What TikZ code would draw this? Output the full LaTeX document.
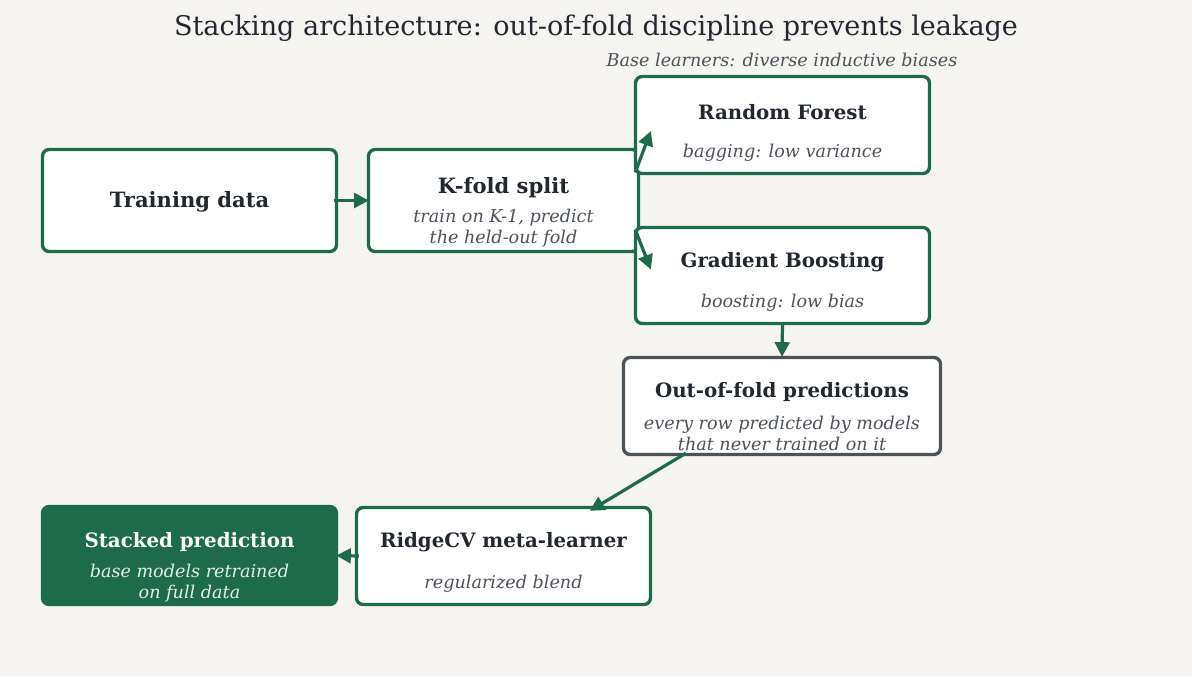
\documentclass[tikz,border=0pt]{standalone}
\usepackage{fontspec}
\setmainfont{DejaVu Serif}
\usetikzlibrary{arrows.meta,calc}

\definecolor{leafgreen}{RGB}{30,107,75}
\definecolor{inkdark}{RGB}{34,40,49}
\definecolor{inkgray}{RGB}{77,83,90}
\definecolor{slateedge}{RGB}{74,82,90}
\definecolor{paper}{RGB}{245,244,240}
\definecolor{palemint}{RGB}{226,239,232}

\begin{document}
\begin{tikzpicture}[x=0.75pt,y=0.75pt,yscale=-1,xscale=1,
  stagebox/.style={draw=leafgreen,line width=2.5pt,rounded corners=5pt,fill=white,inner sep=0pt},
  headtext/.style={font=\fontsize{15.8}{19}\selectfont\bfseries,text=inkdark},
  headsmall/.style={headtext,font=\fontsize{14.85}{18}\selectfont\bfseries},
  subtext/.style={font=\fontsize{13.2}{15.75}\selectfont\itshape,text=inkgray,align=center},
  flow/.style={draw=leafgreen,line width=2.4pt,-{Triangle[length=11pt,width=11pt]}}]
%set diagram to the reference size
\fill[paper] (0,0) rectangle (1192,676);
\useasboundingbox (0,0) rectangle (1192,676);

% Title
\node (title) at (596,28) {\fontsize{20.3}{24}\selectfont\color{inkdark}Stacking architecture: out-of-fold discipline prevents leakage};
\node[subtext] (baselbl) at (782,60) {Base learners: diverse inductive biases};

% Boxes
\node[stagebox,minimum width=220.5pt,minimum height=76.5pt] (train) at (189.5,200.5) {};
\node[headtext] (train-head) at ($(train)+(0,1.5)$) {Training data};

\node[stagebox,minimum width=202.5pt,minimum height=76.5pt] (kfold) at (503.5,200.5) {};
\node[headtext] (kfold-head) at ($(kfold)+(0,-13)$) {K-fold split};
\node[subtext] (kfold-sub) at ($(kfold)+(0,27.5)$) {train on K-1, predict\\the held-out fold};

\node[stagebox,minimum width=220.5pt,minimum height=72.75pt] (rf) at (782.5,125) {};
\node[headsmall] (rf-head) at ($(rf)+(0,-12.5)$) {Random Forest};
\node[subtext] (rf-sub) at ($(rf)+(0,27.5)$) {bagging: low variance};

\node[stagebox,minimum width=220.5pt,minimum height=72pt] (gb) at (782.5,275.5) {};
\node[headsmall] (gb-head) at ($(gb)+(0,-13)$) {Gradient Boosting};
\node[subtext] (gb-sub) at ($(gb)+(0,27)$) {boosting: low bias};

\node[stagebox,draw=slateedge,minimum width=237.75pt,minimum height=72.75pt] (oof) at (782,406) {};
\node[headsmall] (oof-head) at ($(oof)+(0,-13.5)$) {Out-of-fold predictions};
\node[subtext] (oof-sub) at ($(oof)+(0,27)$) {every row predicted by models\\that never trained on it};

\node[stagebox,minimum width=220.5pt,minimum height=72.75pt] (ridge) at (503.5,556) {};
\node[headsmall] (ridge-head) at ($(ridge)+(0,-13.5)$) {RidgeCV meta-learner};
\node[subtext] (ridge-sub) at ($(ridge)+(0,27.5)$) {regularized blend};

\node[stagebox,fill=leafgreen,minimum width=220.5pt,minimum height=73.5pt] (stacked) at (189.5,555.5) {};
\node[headsmall,text=white] (stacked-head) at ($(stacked)+(0,-13)$) {Stacked prediction};
\node[subtext,text=palemint] (stacked-sub) at ($(stacked)+(0,27.5)$) {base models retrained\\on full data};

% Arrows
\draw[flow] ($(train.east)+(-4,0)$) -- ($(kfold.west)+(2,0)$);
\draw[flow] ($(kfold.east)+(-5,-28)$) -- ($(rf.west)+(17,6)$);
\draw[flow] ($(kfold.east)+(-5,29)$) -- ($(gb.west)+(17,-6)$);
\draw[flow] ($(gb.south)+(0,-2)$) -- ($(oof.north)+(0,1)$);
\draw[flow] ($(oof.south west)!0.2!(oof.south east)+(0,-3)$) -- ($(ridge.north west)!0.79!(ridge.north east)+(0,5)$);
\draw[flow] ($(ridge.west)+(4,0)$) -- ($(stacked.east)+(-2,0)$);

\end{tikzpicture}
\end{document}
